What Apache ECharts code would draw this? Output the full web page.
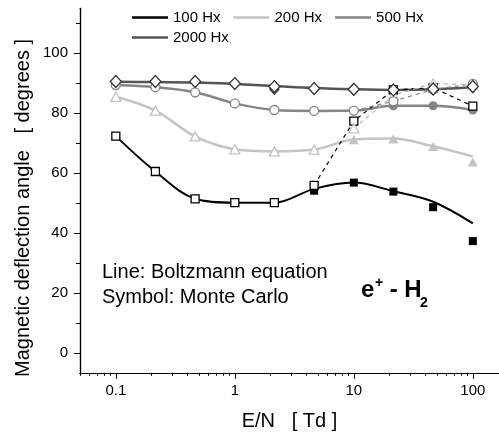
<!DOCTYPE html>
<html><head><meta charset="utf-8">
<script src="https://cdn.jsdelivr.net/npm/echarts@6/dist/echarts.min.js"></script>
<style>html,body{margin:0;padding:0;background:#fff}#c{width:499px;height:432px}</style>
</head><body><div id="c"></div>
<script>
// E/N values [Td]
const EN = [0.1, 0.215, 0.464, 1, 2.15, 4.64, 10, 21.5, 46.4, 100];
const fieldNames = ['100 Hx', '200 Hx', '500 Hx', '2000 Hx'];

// Boltzmann equation (lines)
const boltz100  = [72.4, 60.6, 51.5, 50.2, 50.2, 54.8, 56.9, 54.0, 50.5, 43.3];
const boltz200  = [85.5, 80.9, 72.3, 68.0, 67.3, 67.9, 71.3, 71.6, 69.0, 65.6];
const boltz500  = [89.4, 88.7, 87.0, 83.3, 81.1, 80.8, 80.9, 82.5, 82.5, 81.1];
const boltz2000 = [90.5, 90.4, 90.3, 89.8, 89.1, 88.4, 88.0, 87.8, 88.0, 88.7];

// Monte Carlo, open symbols
const mcOpen100  = [72.4, 60.6, 51.5, 50.2, 50.2, 56.0, 77.4, 87.8, 88.5, 82.4];
const mcOpen200  = [85.5, 80.9, 72.3, 68.0, 67.3, 67.9, 75.0, 86.0, 90.0, 89.4];
const mcOpen500  = [89.4, 88.7, 87.0, 83.3, 81.1, 80.8, 80.9, 84.0, 88.0, 89.8];
const mcOpen2000 = [90.6, 90.6, 90.6, 89.9, 88.9, 88.3, 88.0, 87.8, 88.1, 88.9];

// Monte Carlo, filled symbols
const mcFill100  = [null, null, null, null, null, 54.2, 56.9, 53.9, 48.7, 37.4];
const mcFill200  = [null, null, null, null, null, null, 71.2, 71.4, 68.9, 63.8];
const mcFill500  = [null, null, null, null, null, null, null, 82.5, 82.5, 81.1];
const mcFill2000 = [null, null, null, null, 88.0, 88.0, 87.8, 87.6, 88.0, 88.6];

// index where the dashed open-symbol branch starts (null = none)
const dashStart = [5, 6, 6, null];

// axis ticks
const xMajorTicks = [0.1, 1, 10, 100];
const xTickLabels = ['0.1', '1', '10', '100'];
const xMinorTicks = [0.05, 0.06, 0.07, 0.08, 0.09, 0.2, 0.3, 0.4, 0.5, 0.6, 0.7, 0.8, 0.9,
  2, 3, 4, 5, 6, 7, 8, 9, 20, 30, 40, 50, 60, 70, 80, 90];
const yMajorTicks = [0, 20, 40, 60, 80, 100];
const yMinorTicks = [10, 30, 50, 70, 90, 110];

const boltz = [boltz100, boltz200, boltz500, boltz2000];
const mcOpen = [mcOpen100, mcOpen200, mcOpen500, mcOpen2000];
const mcFill = [mcFill100, mcFill200, mcFill500, mcFill2000];

const colors = ['#000000', '#c4c4c4', '#858585', '#555555'];
const markColors = ['#000000', '#c4c4c4', '#858585', '#333333'];
const dashColors = ['#000000', '#b8b8b8', '#858585', '#333333'];
const fillColors = ['#000000', '#c4c4c4', '#858585', '#444444'];
const symbols = ['rect', 'triangle', 'circle', 'diamond'];
const sizes = [[8, 8], [10, 9], [9, 9], [11, 12]];
const lineWidths = [2, 2.5, 2.5, 2.5];

const FONT = 'Liberation Sans, Arial, sans-serif';
const lg = v => Math.log10(v);
const pts = arr => EN.map((x, i) => arr[i] == null ? null : [lg(x), arr[i]]).filter(p => p);

const series = [];
fieldNames.forEach((name, k) => {
  series.push({
    name, type: 'line', data: pts(boltz[k]), smooth: 0.35, showSymbol: false,
    color: colors[k], itemStyle: {color: colors[k]},
    lineStyle: {color: colors[k], width: lineWidths[k]}, z: 2, silent: true
  });
});
fieldNames.forEach((name, k) => {
  if (dashStart[k] == null) return;
  const d = pts(mcOpen[k]).slice(dashStart[k]);
  series.push({
    name: name + ' MC branch', type: 'line', data: d, showSymbol: false,
    lineStyle: {color: dashColors[k], width: 1.2, type: [4, 4]},
    z: 3, silent: true
  });
});
fieldNames.forEach((name, k) => {
  series.push({
    name: name + ' MC filled', type: 'scatter', data: pts(mcFill[k]),
    symbol: symbols[k], symbolSize: sizes[k],
    itemStyle: {color: fillColors[k], opacity: 1}, z: 4, silent: true
  });
  series.push({
    name: name + ' MC open', type: 'scatter', data: pts(mcOpen[k]),
    symbol: symbols[k], symbolSize: sizes[k],
    itemStyle: {color: '#ffffff', borderColor: markColors[k], borderWidth: 1.3, opacity: 1}, z: 5, silent: true
  });
});

const xMin = lg(0.05), xMax = lg(166);
const yMin = -6.5, yMax = 115;
const axisLineStyle = {color: '#000', width: 1.2};
const gridBox = {left: 80, right: 0, top: 8.3, bottom: 59.2, containLabel: false, outerBoundsMode: 'none'};

const chart = echarts.init(document.getElementById('c'), null, {renderer: 'canvas'});
chart.setOption({
  animation: false,
  backgroundColor: '#ffffff',
  textStyle: {fontFamily: FONT},
  grid: [Object.assign({}, gridBox), Object.assign({}, gridBox)],
  legend: [
    {data: fieldNames.slice(0, 3), left: 132, top: 10, padding: 0, icon: 'rect', itemWidth: 36, itemHeight: 2.5,
     itemGap: 13, textStyle: {fontSize: 15, color: '#000', fontFamily: FONT}, selectedMode: false},
    {data: fieldNames.slice(3), left: 132, top: 30, padding: 0, icon: 'rect', itemWidth: 36, itemHeight: 2.5,
     textStyle: {fontSize: 15, color: '#000', fontFamily: FONT}, selectedMode: false}
  ],
  xAxis: [
    {type: 'value', gridIndex: 0, min: xMin, max: xMax, position: 'bottom',
     axisLine: {show: true, onZero: false, lineStyle: axisLineStyle},
     axisTick: {show: true, inside: false, length: 6, customValues: xMajorTicks.map(lg), lineStyle: {color: '#000'}},
     axisLabel: {customValues: xMajorTicks.map(lg), margin: 11, fontSize: 15, color: '#000', fontFamily: FONT,
       formatter: v => { const i = xMajorTicks.findIndex(t => Math.abs(lg(t) - v) < 1e-6); return i >= 0 ? xTickLabels[i] : ''; }},
     splitLine: {show: false},
     name: 'E/N   [ Td ]', nameLocation: 'middle', nameGap: 39,
     nameTextStyle: {fontSize: 20, color: '#000', fontFamily: FONT}},
    {type: 'value', gridIndex: 1, min: xMin, max: xMax, position: 'bottom',
     axisLine: {show: true, onZero: false, lineStyle: axisLineStyle},
     axisTick: {show: true, inside: false, length: 3, customValues: xMinorTicks.map(lg), lineStyle: {color: '#000'}},
     axisLabel: {show: false}, splitLine: {show: false}}
  ],
  yAxis: [
    {type: 'value', gridIndex: 0, min: yMin, max: yMax, position: 'left',
     axisLine: {show: true, onZero: false, lineStyle: axisLineStyle},
     axisTick: {show: true, inside: false, length: 6, customValues: yMajorTicks, lineStyle: {color: '#000'}},
     axisLabel: {customValues: yMajorTicks, margin: 12, fontSize: 15, color: '#000', fontFamily: FONT},
     splitLine: {show: false}},
    {type: 'value', gridIndex: 1, min: yMin, max: yMax, position: 'left',
     axisLine: {show: true, onZero: false, lineStyle: axisLineStyle},
     axisTick: {show: true, inside: false, length: 4, customValues: yMinorTicks, lineStyle: {color: '#000'}},
     axisLabel: {show: false}, splitLine: {show: false}}
  ],
  graphic: [
    {type: 'text', x: 23, y: 208, rotation: Math.PI / 2, silent: true,
     style: {text: 'Magnetic deflection angle   [ degrees ]', fontSize: 20, fontFamily: FONT, fill: '#000',
       align: 'center', verticalAlign: 'middle'}},
    {type: 'text', x: 102, y: 272, silent: true,
     style: {text: 'Line: Boltzmann equation', fontSize: 20, fontFamily: FONT, fill: '#000', align: 'left', verticalAlign: 'middle'}},
    {type: 'text', x: 102, y: 297, silent: true,
     style: {text: 'Symbol: Monte Carlo', fontSize: 20, fontFamily: FONT, fill: '#000', align: 'left', verticalAlign: 'middle'}},
    {type: 'text', x: 361, y: 290, silent: true,
     style: {text: 'e', fontSize: 24, fontWeight: 'bold', fontFamily: FONT, fill: '#000', align: 'left', verticalAlign: 'middle'}},
    {type: 'text', x: 375, y: 283, silent: true,
     style: {text: '+', fontSize: 14, fontWeight: 'bold', fontFamily: FONT, fill: '#000', align: 'left', verticalAlign: 'middle'}},
    {type: 'text', x: 383, y: 290, silent: true,
     style: {text: ' - H', fontSize: 24, fontWeight: 'bold', fontFamily: FONT, fill: '#000', align: 'left', verticalAlign: 'middle'}},
    {type: 'text', x: 420, y: 303, silent: true,
     style: {text: '2', fontSize: 14, fontWeight: 'bold', fontFamily: FONT, fill: '#000', align: 'left', verticalAlign: 'middle'}}
  ],
  series
});
</script></body></html>
